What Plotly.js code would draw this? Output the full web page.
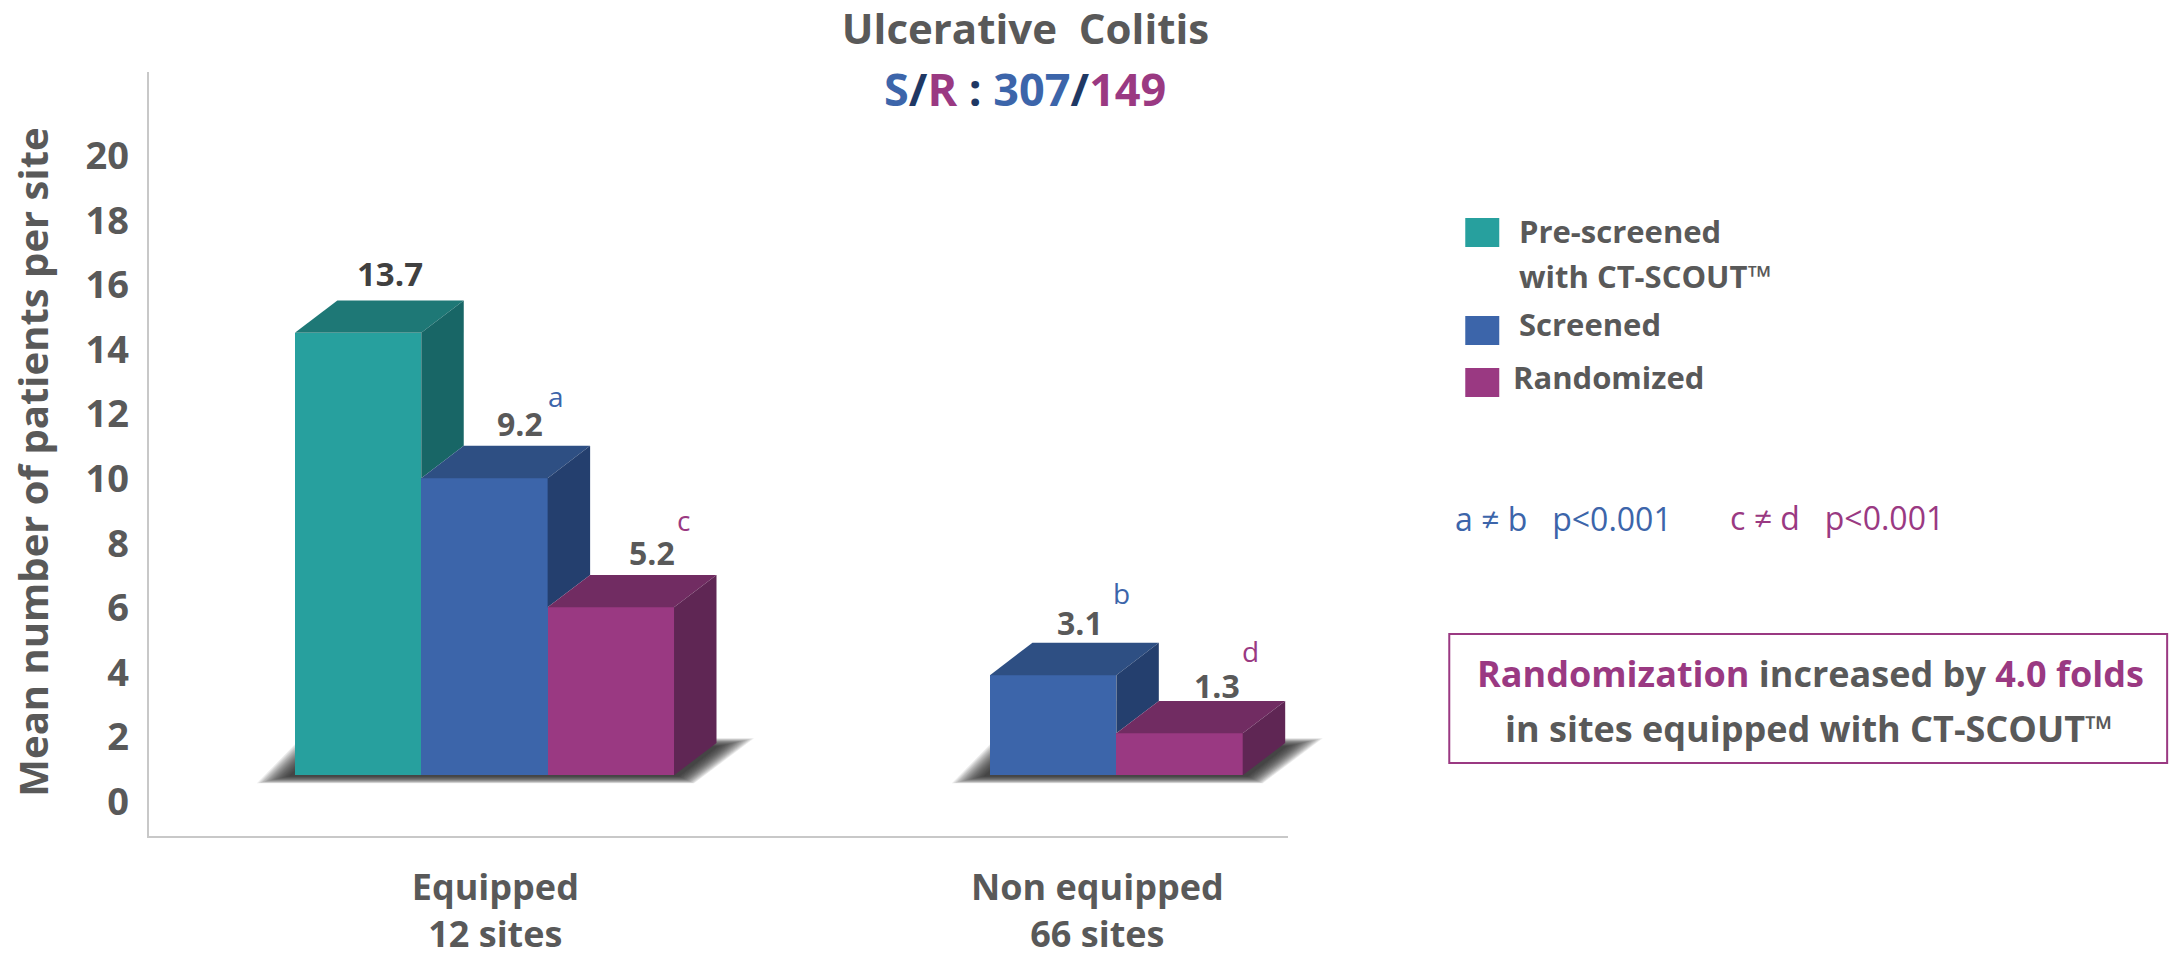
<!DOCTYPE html>
<html><head><meta charset="utf-8">
<script src="https://cdn.plot.ly/plotly-3.0.1.min.js"></script>
<style>html,body{margin:0;padding:0;background:#fff}#c{width:2172px;height:957px}</style></head>
<body><div id="c"></div>
<script>
const categoryLabels = ['Equipped<br>12 sites', 'Non equipped<br>66 sites'];
const categoryPositions = [2.086, 6.85];
const seriesNames = ['Pre-screened with CT-SCOUT™', 'Screened', 'Randomized'];
const preScreenedValues = [13.7];
const screenedValues = [9.2, 3.1];
const randomizedValues = [5.2, 1.3];
const preScreenedX = [1];
const screenedX = [2, 6.5];
const randomizedX = [3, 7.5];
const yTicks = [0, 2, 4, 6, 8, 10, 12, 14, 16, 18, 20];

const W = 2172, H = 957;
const L = 148.5, R = 1287.7, T = 72, B = 836;
const pxX = x => (x - L) / (R - L);
const pxY = y => (B - y) / (B - T);
const unitY = 32.3, unitX = 126.4, zeroTickPx = 801.7, floorPx = 775.3, y1TopPx = 88, firstLeftPx = 294.4;
const FONT = '"Open Sans", sans-serif';
const GREY = '#595959', TEAL = '#27A09E', BLUE = '#3C65AA', PURPLE = '#9A3982';
const depthX = 42.5 / unitX, depthY = 1;

const faces = [
  {name: seriesNames[0], x: preScreenedX, y: preScreenedValues, front: TEAL, top: '#1E7876', side: '#186666', nextY: [screenedValues[0]]},
  {name: seriesNames[1], x: screenedX, y: screenedValues, front: BLUE, top: '#2E4F83', side: '#243F6E', nextY: randomizedValues},
  {name: seriesNames[2], x: randomizedX, y: randomizedValues, front: PURPLE, top: '#712C62', side: '#5F2654', nextY: [0, 0]}
];

const traces = [];
// invisible carrier for the tick axis
traces.push({type: 'scatter', mode: 'markers', x: yTicks.map(() => 0), y: yTicks, xaxis: 'x', yaxis: 'y',
  marker: {opacity: 0, size: 1}, hoverinfo: 'skip', showlegend: false});
faces.forEach(f => {
  traces.push({type: 'bar', name: f.name, x: f.x, y: f.y, width: 1, xaxis: 'x', yaxis: 'y2',
    marker: {color: f.front, line: {width: 0}}, showlegend: false, hoverinfo: 'y'});
});
faces.forEach(f => {
  f.x.forEach((cx, i) => {
    const l = cx - 0.5, r = cx + 0.5, v = f.y[i], nv = f.nextY[i];
    traces.push({type: 'scatter', mode: 'lines', xaxis: 'x', yaxis: 'y2', fill: 'toself', fillcolor: f.top,
      line: {width: 0}, hoverinfo: 'skip', showlegend: false,
      x: [l, r, r + depthX, l + depthX, l], y: [v, v, v + depthY, v + depthY, v]});
    traces.push({type: 'scatter', mode: 'lines', xaxis: 'x', yaxis: 'y2', fill: 'toself', fillcolor: f.side,
      line: {width: 0}, hoverinfo: 'skip', showlegend: false,
      x: [r, r + depthX, r + depthX, r, r], y: [v, v + depthY, nv + depthY, nv, v]});
  });
});

// soft floor shadow, painted as stacked translucent layers (not clipped by the axes)
const groupEdges = [[0.5, 3.5], [6, 8]];
const shapes = [];
const edgePx = x => firstLeftPx + (x - 0.5) * unitX;
groupEdges.forEach(([a, b]) => {
  const lp = edgePx(a), rp = edgePx(b), steps = 18;
  for (let s = 0; s < steps; s++) {
    const t = s / (steps - 1), mix = (o, i) => o + (i - o) * t;
    const fl = lp + mix(-38, -6), fr = rp + mix(20, 5), br = rp + mix(80, 44), bl = lp + mix(6, 26);
    const yb = floorPx + mix(8, 1), yt = floorPx + mix(-37, -29);
    const path = `M ${pxX(fl)} ${pxY(yb)} L ${pxX(fr)} ${pxY(yb)} L ${pxX(br)} ${pxY(yt)} L ${pxX(bl)} ${pxY(yt)} Z`;
    shapes.push({type: 'path', xref: 'paper', yref: 'paper', layer: 'below', path,
      fillcolor: 'rgba(35,35,35,0.09)', line: {width: 0}});
  }
});

// legend swatches and callout box
const rectPx = (x0, y0, x1, y1, extra) => Object.assign({type: 'rect', xref: 'paper', yref: 'paper',
  x0: pxX(x0), x1: pxX(x1), y0: pxY(y1), y1: pxY(y0)}, extra);
shapes.push(rectPx(1465, 218, 1499, 247, {fillcolor: TEAL, line: {width: 0}}));
shapes.push(rectPx(1465, 316, 1499, 345, {fillcolor: BLUE, line: {width: 0}}));
shapes.push(rectPx(1465, 368, 1499, 397, {fillcolor: PURPLE, line: {width: 0}}));
shapes.push(rectPx(1449, 634, 2167, 763, {fillcolor: 'rgba(0,0,0,0)', line: {color: PURPLE, width: 2}}));

const txt = (text, x, y, size, color, weight, anchor) => ({
  text, xref: 'paper', yref: 'paper', x: pxX(x), y: pxY(y), xanchor: anchor || 'center', yanchor: 'middle',
  showarrow: false, font: {family: FONT, size, color, weight}});
const dataLabel = (text, cx, v, dxPx, dyPx, size, color, weight) => ({
  text, xref: 'x', yref: 'y2', x: cx, y: v + depthY, xshift: dxPx, yshift: dyPx, xanchor: 'center', yanchor: 'middle',
  showarrow: false, font: {family: FONT, size, color, weight}});
const c = (t, col) => `<span style="color:${col}">${t}</span>`;

const annotations = [
  txt(c('S', BLUE) + c('/', '#1F3864') + c('R', PURPLE) + c(' : ', '#1F3864') + c('307', BLUE) + c('/', '#1F3864') + c('149', PURPLE), 1025, 88, 45, BLUE, 700),
  dataLabel(String(preScreenedValues[0]), preScreenedX[0], preScreenedValues[0], 32, 27, 33, '#404040', 700),
  dataLabel(String(screenedValues[0]), screenedX[0], screenedValues[0], 36, 22, 32, GREY, 700),
  dataLabel(String(randomizedValues[0]), randomizedX[0], randomizedValues[0], 41, 23, 32, GREY, 700),
  dataLabel(String(screenedValues[1]), screenedX[1], screenedValues[1], 27, 20, 32, GREY, 700),
  dataLabel(String(randomizedValues[1]), randomizedX[1], randomizedValues[1], 37, 16, 32, GREY, 700),
  dataLabel('a', screenedX[0], screenedValues[0], 72, 50, 28, BLUE, 400),
  dataLabel('c', randomizedX[0], randomizedValues[0], 73, 55, 28, PURPLE, 400),
  dataLabel('b', screenedX[1], screenedValues[1], 68, 50, 28, BLUE, 400),
  dataLabel('d', randomizedX[1], randomizedValues[1], 71, 50, 28, PURPLE, 400),
  txt('Pre-screened', 1517, 231, 31, GREY, 700, 'left'),
  txt('with CT-SCOUT™', 1517, 276, 31, GREY, 700, 'left'),
  txt('Screened', 1517, 324, 31, GREY, 700, 'left'),
  txt('Randomized', 1511, 377, 31, GREY, 700, 'left'),
  txt('a ≠ b   p&lt;0.001', 1453, 518, 32, BLUE, 400, 'left'),
  txt('c ≠ d   p&lt;0.001', 1728, 517, 32, PURPLE, 400, 'left'),
  txt(c('Randomization', PURPLE) + ' increased by ' + c('4.0 folds', PURPLE), 1810, 673, 36, GREY, 700),
  txt('in sites equipped with CT-SCOUT™', 1809, 728, 36, GREY, 700)
];

const layout = {
  width: W, height: H, paper_bgcolor: '#fff', plot_bgcolor: 'rgba(0,0,0,0)', showlegend: false,
  margin: {l: L, r: W - R, t: T, b: H - B, pad: 0},
  title: {text: 'Ulcerative\u00A0 Colitis', x: 1025.5 / W, xanchor: 'center', y: 1 - 29.5 / H, yanchor: 'middle',
    font: {family: FONT, size: 42, color: GREY, weight: 700}},
  xaxis: {anchor: 'y2', domain: [0, 1], range: [0.5 + (L - firstLeftPx) / unitX, 0.5 + (R - firstLeftPx) / unitX],
    tickmode: 'array', tickvals: categoryPositions, ticktext: categoryLabels, ticks: '', showgrid: false, zeroline: false,
    showline: true, linecolor: '#C8C8C8', linewidth: 2, ticklabelstandoff: 19,
    tickfont: {family: FONT, size: 36, color: GREY, weight: 700}},
  yaxis: {anchor: 'x', domain: [0, (B - y1TopPx) / (B - T)], range: [(zeroTickPx - B) / unitY, (zeroTickPx - y1TopPx) / unitY],
    tickmode: 'array', tickvals: yTicks, ticktext: yTicks.map(String), ticks: '', showgrid: false, zeroline: false, showline: false,
    ticklabelstandoff: 19, tickfont: {family: FONT, size: 38, color: GREY, weight: 700},
    title: {text: 'Mean number of patients per site', standoff: 24, font: {family: FONT, size: 40, color: GREY, weight: 700}}},
  yaxis2: {anchor: 'x', domain: [0, 1], range: [(floorPx - B) / unitY, (floorPx - T) / unitY],
    showticklabels: false, ticks: '', showgrid: false, zeroline: false, showline: true, linecolor: '#C8C8C8', linewidth: 2},
  bargap: 0, barmode: 'overlay', shapes, annotations
};
Plotly.newPlot('c', traces, layout, {displayModeBar: false, responsive: false});
</script></body></html>
